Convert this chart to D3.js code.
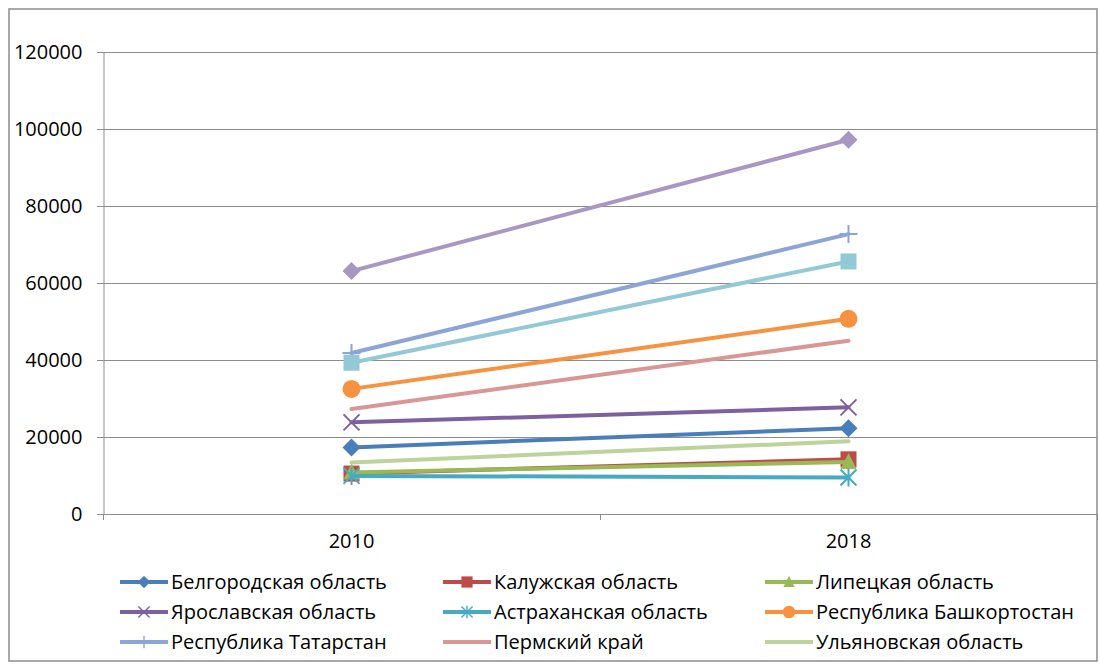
<!DOCTYPE html>
<html>
<head>
<meta charset="utf-8">
<script src="https://cdn.jsdelivr.net/npm/d3@7"></script>
<style>
  body { margin: 0; background: #fff; }
  text { font-family: "Open Sans", "Noto Sans", sans-serif; fill: #000; }
</style>
</head>
<body>
<svg id="chart" width="1100" height="668"></svg>
<script>
// categories on the x axis
var years = ["2010", "2018"];

// series names (legend shows the first nine only, the rest are cut off)
var names = [
  "Белгородская область", "Калужская область", "Липецкая область",
  "Ярославская область", "Астраханская область", "Республика Башкортостан",
  "Республика Татарстан", "Пермский край", "Ульяновская область",
  "Ряд10", "Ряд11"
];

// values for 2010 and 2018
var belgorod = [17300, 22300];
var kaluga = [10500, 14200];
var lipetsk = [10800, 13500];
var yaroslavl = [23800, 27700];
var astrakhan = [9900, 9500];
var bashkortostan = [32500, 50700];
var tatarstan = [41800, 72700];
var perm = [27300, 45000];
var ulyanovsk = [13400, 18900];
var series10 = [63100, 97200];
var series11 = [39300, 65600];

var yTicks = [0, 20000, 40000, 60000, 80000, 100000, 120000];

var values = [belgorod, kaluga, lipetsk, yaroslavl, astrakhan, bashkortostan,
  tatarstan, perm, ulyanovsk, series10, series11];
var colors = ["#4a7ebb", "#be4b48", "#98b954", "#7d60a0", "#46aac5", "#f69240",
  "#8da5d6", "#d89795", "#bcd39b", "#a897c2", "#93c8d7"];
var markers = ["diamond", "square", "triangle", "x", "star", "circle",
  "plus", "none", "none", "diamond", "square"];

var svg = d3.select("#chart");
var WIDTH = 1100, HEIGHT = 668,
MARGINS = { top: 52, right: 1097, bottom: 514, left: 103 };

// outer frame
svg.append("rect")
  .attr("x", 9).attr("y", 9)
  .attr("width", 1088).attr("height", 652)
  .attr("fill", "none")
  .attr("stroke", "#8c8c8c")
  .attr("stroke-width", 1.5);

var xScale = d3.scaleBand()
  .domain(years)
  .range([MARGINS.left, MARGINS.right]);

var yScale = d3.scaleLinear()
  .domain([0, 120000])
  .range([MARGINS.bottom, MARGINS.top]);

// grid lines
svg.append("g")
  .selectAll("line")
  .data(yTicks)
  .enter().append("line")
  .attr("x1", MARGINS.left - 6)
  .attr("x2", MARGINS.right)
  .attr("y1", function (d) { return Math.round(yScale(d)) + 0.5; })
  .attr("y2", function (d) { return Math.round(yScale(d)) + 0.5; })
  .attr("stroke", "#8c8c8c")
  .attr("stroke-width", 1);

// y axis
var yAxis = d3.axisLeft(yScale).tickValues(yTicks).tickFormat(d3.format("d"))
  .tickSize(6).tickPadding(15);
var gy = svg.append("g")
  .attr("transform", "translate(" + (MARGINS.left + 0.5) + ",0)")
  .call(yAxis);
gy.select(".domain").attr("stroke", "#8c8c8c");
gy.selectAll(".tick line").attr("stroke", "#8c8c8c");
gy.selectAll("text").style("font-size", "20px").attr("fill", "#000");

// x axis
var xAxis = d3.axisBottom(xScale).tickSize(0).tickPadding(19);
var gx = svg.append("g")
  .attr("transform", "translate(0," + (MARGINS.bottom + 0.5) + ")")
  .call(xAxis);
gx.select(".domain").remove();
gx.selectAll("text").style("font-size", "20px").attr("fill", "#000");
// category tick marks between bands
var bounds = [MARGINS.left, MARGINS.left + xScale.bandwidth(), MARGINS.right];
svg.append("g")
  .selectAll("line")
  .data(bounds)
  .enter().append("line")
  .attr("x1", function (d) { return Math.round(d) + 0.5; })
  .attr("x2", function (d) { return Math.round(d) + 0.5; })
  .attr("y1", MARGINS.bottom)
  .attr("y2", MARGINS.bottom + 6)
  .attr("stroke", "#8c8c8c");

function cx(i) { return xScale(years[i]) + xScale.bandwidth() / 2; }

function drawMarker(g, type, color, x, y) {
  var s = 8;
  if (type === "diamond") {
    g.append("path").attr("d", "M" + x + "," + (y - 9) + "L" + (x + 9) + "," + y +
      "L" + x + "," + (y + 9) + "L" + (x - 9) + "," + y + "Z").attr("fill", color);
  } else if (type === "square") {
    g.append("rect").attr("x", x - s).attr("y", y - s).attr("width", 2 * s)
      .attr("height", 2 * s).attr("fill", color);
  } else if (type === "triangle") {
    g.append("path").attr("d", "M" + x + "," + (y - 9) + "L" + (x + 8) + "," + (y + 7) +
      "L" + (x - 8) + "," + (y + 7) + "Z").attr("fill", color);
  } else if (type === "circle") {
    g.append("circle").attr("cx", x).attr("cy", y).attr("r", 9).attr("fill", color);
  } else if (type === "x") {
    g.append("path").attr("d", "M" + (x - 8) + "," + (y - 8) + "L" + (x + 8) + "," + (y + 8) +
      "M" + (x + 8) + "," + (y - 8) + "L" + (x - 8) + "," + (y + 8))
      .attr("stroke", color).attr("stroke-width", 2);
  } else if (type === "star") {
    g.append("path").attr("d", "M" + (x - 8) + "," + (y - 8) + "L" + (x + 8) + "," + (y + 8) +
      "M" + (x + 8) + "," + (y - 8) + "L" + (x - 8) + "," + (y + 8) +
      "M" + x + "," + (y - 9) + "L" + x + "," + (y + 9))
      .attr("stroke", color).attr("stroke-width", 2);
  } else if (type === "plus") {
    g.append("path").attr("d", "M" + (x - 9) + "," + y + "L" + (x + 9) + "," + y +
      "M" + x + "," + (y - 9) + "L" + x + "," + (y + 9))
      .attr("stroke", color).attr("stroke-width", 2);
  }
}

var lineGen = d3.line()
  .x(function (d, i) { return cx(i); })
  .y(function (d) { return yScale(d); });

values.forEach(function (v, k) {
  var g = svg.append("g");
  g.append("path")
    .attr("d", lineGen(v))
    .attr("stroke", colors[k])
    .attr("stroke-width", 4)
    .attr("stroke-linecap", "round")
    .attr("fill", "none");
  v.forEach(function (d, i) {
    drawMarker(g, markers[k], colors[k], cx(i), yScale(d));
  });
});

// legend: first nine series, three columns
var legend = svg.append("g");
var colX = [120, 443, 765], rowY = [582, 612, 642];
names.slice(0, 9).forEach(function (n, k) {
  var x = colX[k % 3], y = rowY[Math.floor(k / 3)];
  var g = legend.append("g");
  g.append("line")
    .attr("x1", x).attr("x2", x + 48)
    .attr("y1", y).attr("y2", y)
    .attr("stroke", colors[k]).attr("stroke-width", 4);
  var mk = g.append("g").attr("transform", "translate(" + (x + 24) + "," + y + ") scale(0.7)");
  drawMarker(mk, markers[k], colors[k], 0, 0);
  g.append("text")
    .attr("x", x + 51).attr("y", y)
    .attr("dy", "0.35em")
    .style("font-size", "20px")
    .text(n);
});
</script>
</body>
</html>
